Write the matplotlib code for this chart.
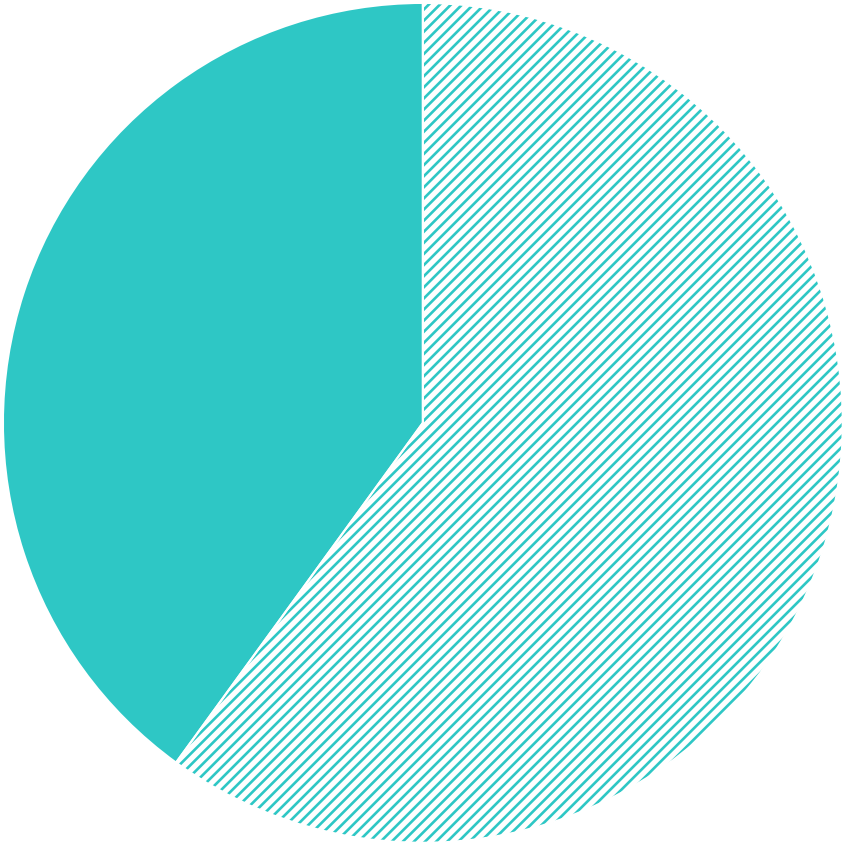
import matplotlib
matplotlib.use("Agg")
import matplotlib.pyplot as plt

labels = ["A", "B"]
values = [60, 40]
teal = "#2EC7C5"

plt.rcParams['hatch.linewidth'] = 1.9

fig = plt.figure(figsize=(8.47, 8.47), dpi=100)
ax = fig.add_axes([0, 0, 1, 1])
wedges, _ = ax.pie(values, startangle=90, counterclock=False, radius=1.0,
                   colors=["white", teal],
                   wedgeprops=dict(linewidth=0))
wedges[0].set_hatch("///")
wedges[0].set_edgecolor(teal)
wedges[0].set_linewidth(0)
wedges[1].set_edgecolor(teal)
# white separating edges
ax.pie(values, startangle=90, counterclock=False, radius=1.0,
       colors=["none", "none"],
       wedgeprops=dict(linewidth=1.5, edgecolor="white", fill=False))
ax.set_xlim(-1.007, 1.01)
ax.set_ylim(-1.01, 1.007)
ax.set_aspect("equal")
ax.axis("off")
fig.savefig("out.png", dpi=100)
